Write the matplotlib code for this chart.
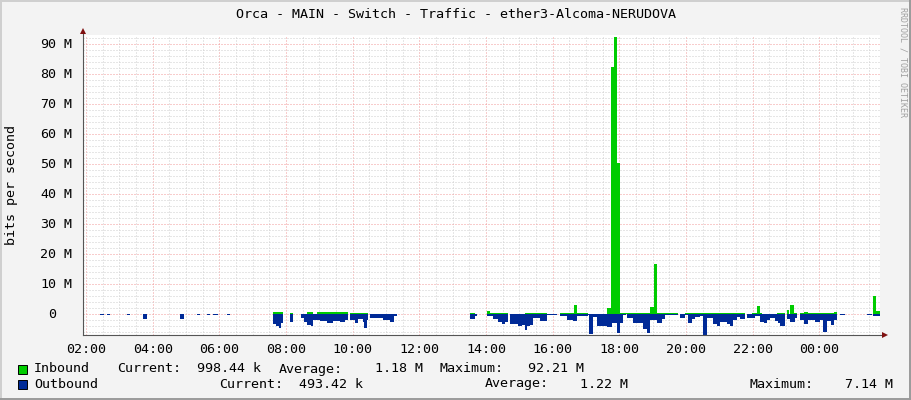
import numpy as np
import matplotlib.pyplot as plt
import matplotlib.transforms as mtransforms
from matplotlib.patches import Rectangle
from matplotlib.lines import Line2D

nan = np.nan
W, H = 911, 400

# time in hours (24 = midnight of the next day), each value holds until the next time
out_t = [2.42, 2.54, 2.63, 2.72, 3.23, 3.32, 3.71, 3.83, 4.82, 4.94, 5.33, 5.42,
         5.63, 5.72, 5.81, 5.96, 6.23, 6.32,
         7.61, 7.70, 7.79, 7.85, 7.91, 8.12, 8.21,
         8.45, 8.54, 8.63, 8.75, 8.81, 8.93, 9.02, 9.23, 9.41, 9.62, 9.77, 9.86,
         9.92, 10.07, 10.16, 10.31, 10.34, 10.43, 10.46,
         10.52, 10.91, 11.12, 11.24, 11.33,
         13.52, 13.67, 13.73,
         14.03, 14.21, 14.36, 14.48, 14.57, 14.66,
         14.72, 14.96, 15.08, 15.17, 15.23, 15.32, 15.41, 15.62, 15.83, 16.13,
         16.22, 16.43, 16.61, 16.73, 17.06, 17.09, 17.21, 17.33, 17.63, 17.78,
         17.93, 18.02, 18.11, 18.20,
         18.23, 18.41, 18.62, 18.71, 18.83, 18.92, 19.13, 19.28, 19.37, 19.46, 19.76,
         19.82, 19.97, 20.06, 20.18, 20.27, 20.42, 20.51, 20.63, 20.81, 20.93,
         21.02, 21.23, 21.32, 21.41, 21.53, 21.62, 21.77,
         21.83, 22.07, 22.22, 22.34, 22.43, 22.52, 22.67, 22.76, 22.82, 22.97,
         23.03, 23.12, 23.27, 23.33,
         23.42, 23.54, 23.66, 23.87, 24.02, 24.11, 24.23, 24.35, 24.44, 24.53,
         24.62, 24.77,
         25.43, 25.58, 25.61, 25.82]
out_v = [0.4, nan, 0.4, nan, 0.4, nan, 1.8, nan, 1.8, nan, 0.4, nan,
         0.4, nan, 0.4, nan, 0.4, nan,
         3.3, 4.0, 4.6, 3.0, nan, 2.7, nan,
         1.3, 2.7, 3.8, 4.0, 2.0, 1.9, 2.2, 2.9, 2.3, 2.7, 2.0, nan,
         2.0, 3.1, 1.8, 2.5, 4.5, 2.0, nan,
         1.3, 1.9, 2.7, 0.5, nan,
         1.5, 0.5, nan,
         0.7, 1.8, 2.7, 3.3, 2.7, nan,
         3.3, 4.0, 3.8, 5.3, 4.0, 3.5, 1.3, 2.2, 0.3, nan,
         0.7, 2.0, 2.4, 0.7, 0.3, 6.7, 1.1, 4.0, 4.2, 2.9,
         6.2, 3.1, 0.3, nan,
         1.3, 2.9, 3.1, 5.1, 6.2, 2.0, 3.1, 1.8, 0.4, 0.2, nan,
         1.3, 0.4, 2.9, 1.8, 0.9, 0.6, 7.1, 1.3, 3.4, 4.0,
         2.7, 3.4, 4.0, 2.0, 1.1, 1.6, nan,
         1.3, 0.5, 2.8, 3.0, 1.9, 1.3, 2.4, 3.0, 3.9, nan,
         1.7, 2.7, 1.3, nan,
         1.9, 3.4, 2.1, 2.7, 2.1, 6.1, 2.4, 3.6, 1.9, nan,
         0.2, nan,
         0.2, nan, 0.8, nan]

in_t = [7.61, 7.91, 8.12, 8.21, 8.63, 8.81, 8.93, 9.86, 9.92, 10.46,
        13.52, 13.67, 14.03, 14.12, 14.66, 15.17, 15.83,
        16.22, 16.64, 16.73, 17.06, 17.63, 17.75, 17.84, 17.93, 18.02,
        18.23, 18.92, 19.04, 19.13, 19.76,
        19.97, 21.77, 21.98, 22.13, 22.22, 22.28, 22.73, 22.97,
        23.03, 23.09, 23.12, 23.24, 23.33,
        23.42, 23.54, 23.66, 23.87, 24.44, 24.53,
        25.61, 25.70, 25.82]
in_v = [0.6, nan, 0.5, nan, 0.6, nan, 0.6, nan, 0.5, nan,
        0.3, nan, 0.9, 0.3, nan, 0.4, nan,
        0.4, 3.0, 0.4, nan, 2.0, 82.4, 92.2, 50.4, 0.3,
        0.4, 2.5, 16.8, 0.4, nan,
        0.3, nan, 0.3, 2.8, 0.3, nan, 0.3, nan,
        1.3, nan, 3.1, 0.5, nan,
        0.3, 0.6, 0.3, 0.4, 0.6, nan,
        5.9, 1.0, nan]

ytick_vals = [0, 10, 20, 30, 40, 50, 60, 70, 80, 90]
ytick_nums = ['0', '10', '20', '30', '40', '50', '60', '70', '80', '90']
xtick_vals = [2, 4, 6, 8, 10, 12, 14, 16, 18, 20, 22, 24]
xtick_labels = ['02:00', '04:00', '06:00', '08:00', '10:00', '12:00',
                '14:00', '16:00', '18:00', '20:00', '22:00', '00:00']

title = 'Orca - MAIN - Switch - Traffic - ether3-Alcoma-NERUDOVA'
legend_rows = [
    ('Inbound', '#00CC00', [(117, 'Current:'), (197, '998.44 k'), (279, 'Average:'),
                            (375, '1.18 M'), (440, 'Maximum:'), (528, '92.21 M')]),
    ('Outbound', '#002A97', [(219, 'Current:'), (299, '493.42 k'), (485, 'Average:'),
                             (580, '1.22 M'), (749, 'Maximum:'), (845, '7.14 M')]),
]

plt.rcParams['font.family'] = 'DejaVu Sans Mono'
fs = 9.6

fig = plt.figure(figsize=(W / 100, H / 100), dpi=100, facecolor='#F3F3F3')
ax = fig.add_axes([83 / W, 1 - 335 / H, (880 - 83) / W, 300 / H])
ax.set_facecolor('white')
ax.set_xlim(1.91, 25.82)
ax.set_ylim(-7, 93)

ax.stairs(np.array(in_v[:-1]), in_t, fill=True, baseline=0, color='#00CC00', lw=0)
ax.stairs(-np.array(out_v[:-1]), out_t, fill=True, baseline=0, color='#002A97', lw=0)

ax.set_xticks(xtick_vals)
ax.set_xticklabels(xtick_labels, fontsize=fs)
ax.set_xticks(np.arange(2, 26, 0.5), minor=True)
ax.set_yticks(ytick_vals)
ax.set_yticklabels([])
ax.set_yticks(np.arange(-6, 93, 2), minor=True)
ax.tick_params(which='both', length=0)
ax.tick_params(axis='x', pad=6)
ax.grid(which='minor', color='#CFCFCF', ls=(0, (1, 2)), lw=0.72)
ax.grid(which='major', color='#F29A9A', ls=(0, (1, 2)), lw=0.72)
ax.set_axisbelow(True)
for s in ax.spines.values():
    s.set_visible(False)

# y tick labels in the rrdtool style
tr = mtransforms.blended_transform_factory(fig.transFigure, ax.transData)
for v, n in zip(ytick_vals, ytick_nums):
    ax.text(56 / W, v, n, transform=tr, ha='right', va='center', fontsize=fs)
    if v != 0:
        ax.text(64 / W, v, 'M', transform=tr, ha='left', va='center', fontsize=fs)

# axes with arrows
axis_col = '#555555'
fig.add_artist(Line2D([83 / W, 83 / W], [1 - 335 / H, 1 - 32 / H], color=axis_col, lw=0.8))
fig.add_artist(Line2D([83 / W, 885 / W], [1 - 335 / H, 1 - 335 / H], color=axis_col, lw=0.8))
fig.add_artist(Line2D([83 / W], [1 - 31 / H], marker='^', ms=5, color='#7F1010', mew=0))
fig.add_artist(Line2D([885 / W], [1 - 335 / H], marker='>', ms=5, color='#7F1010', mew=0))

fig.text(456 / W, 1 - 15 / H, title, ha='center', va='center', fontsize=fs)
fig.text(12 / W, 1 - 185 / H, 'bits per second', rotation=90, ha='center', va='center', fontsize=fs)
fig.text(903 / W, 1 - 7 / H, 'RRDTOOL / TOBI OETIKER', rotation=270, ha='center', va='top',
         fontsize=6.0, color='#A0A0A0')

for i, (name, col, items) in enumerate(legend_rows):
    y = 369 + 15 * i
    fig.add_artist(Rectangle((18 / W, 1 - (y + 4.5) / H), 9 / W, 9 / H, transform=fig.transFigure,
                             facecolor=col, edgecolor='black', lw=0.7))
    fig.text(34 / W, 1 - y / H, name, ha='left', va='center', fontsize=fs)
    for x, s in items:
        fig.text(x / W, 1 - y / H, s, ha='left', va='center', fontsize=fs)

# canvas border
fig.add_artist(Line2D([0, 1], [1 - 0.5 / H, 1 - 0.5 / H], color='#CFCFCF', lw=1.4))
fig.add_artist(Line2D([0.5 / W, 0.5 / W], [0, 1], color='#CFCFCF', lw=1.4))
fig.add_artist(Line2D([0, 1], [1 / H, 1 / H], color='#9A9A9A', lw=1.4))
fig.add_artist(Line2D([1 - 1 / W, 1 - 1 / W], [0, 1], color='#9A9A9A', lw=1.4))

fig.savefig('out.png', dpi=100, facecolor=fig.get_facecolor())
